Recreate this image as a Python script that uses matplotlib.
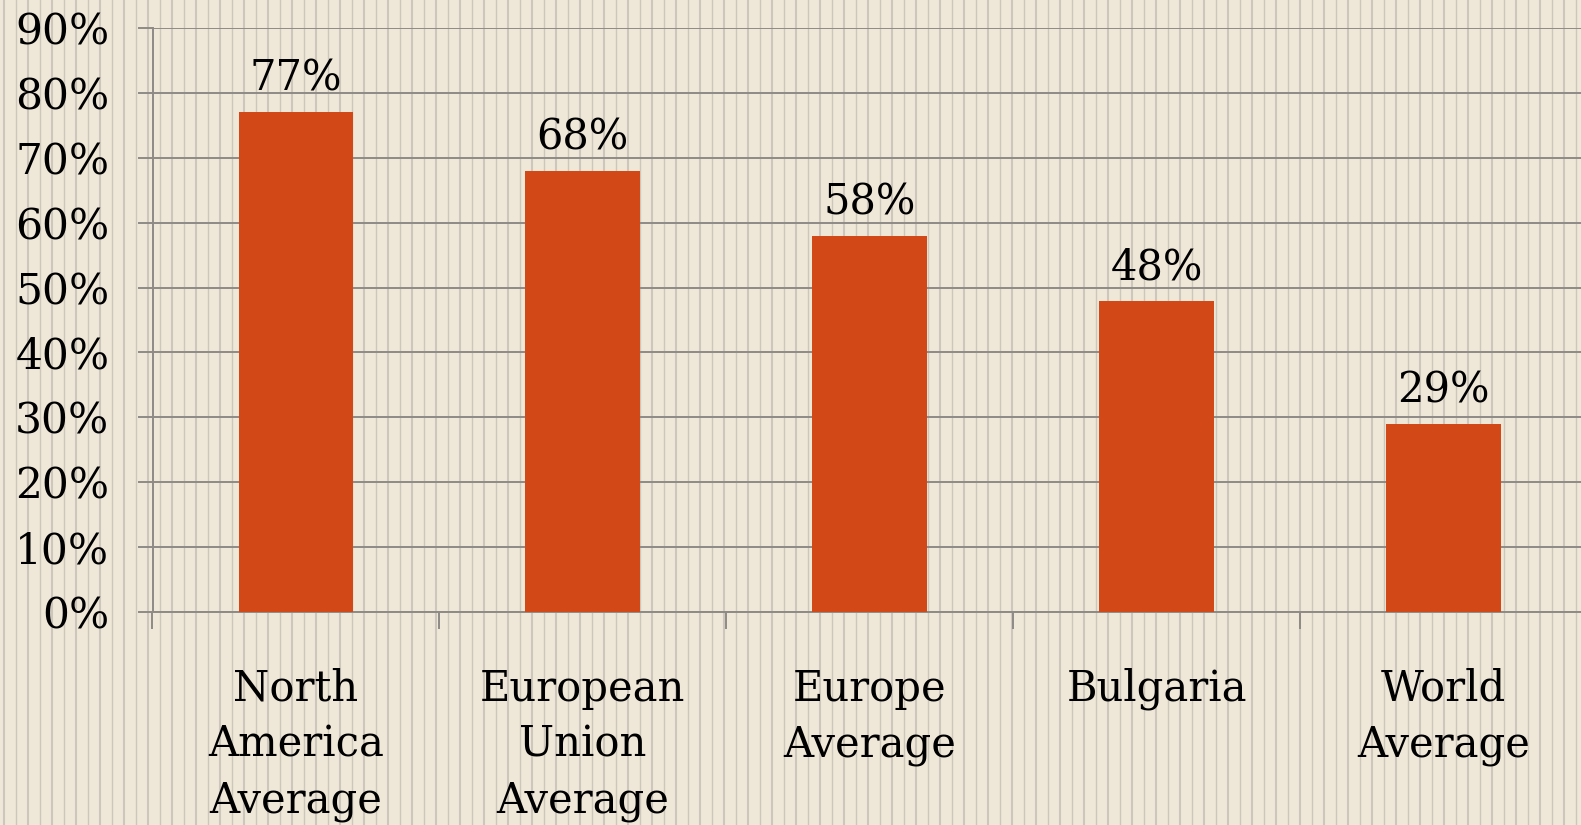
import numpy as np
import matplotlib
matplotlib.use("Agg")
import matplotlib.pyplot as plt
from matplotlib.ticker import FixedLocator, PercentFormatter

categories = ["North\nAmerica\nAverage", "European\nUnion\nAverage", "Europe\nAverage",
              "Bulgaria", "World\nAverage"]
values = [77, 68, 58, 48, 29]
value_labels = ["77%", "68%", "58%", "48%", "29%"]

bg = "#EFE8D8"
stripe = "#CDC6BD"
grid = "#8E8A85"
bar_color = "#D24817"

plt.rcParams["font.family"] = ["DejaVu Serif"]

W, H = 1581, 825
fig = plt.figure(figsize=(W / 100, H / 100), dpi=100)
fig.patch.set_facecolor(bg)

# striped background over the whole figure
bgax = fig.add_axes([0, 0, 1, 1], zorder=-1)
bgax.set_xlim(0, W)
bgax.set_ylim(0, H)
bgax.axis("off")
xs = np.arange(3.7, W, 12.0)
for i, x in enumerate(xs):
    bgax.axvline(x, color=stripe, lw=1.5 if i % 2 == 0 else 1.0)

ax = fig.add_axes([152.5 / W, 1 - 612 / H, 1 - 152.5 / W, (612 - 28) / H])
ax.set_facecolor("none")

x = np.arange(len(values))
bars = ax.bar(x, values, width=0.40, color=bar_color, zorder=3)

for b, lab in zip(bars, value_labels):
    ax.annotate(lab, (b.get_x() + b.get_width() / 2, b.get_height()),
                xytext=(0, 9), textcoords="offset points",
                ha="center", va="bottom", fontsize=30, color="black")

ax.set_ylim(0, 90)
ax.set_xlim(-0.5, 4.479)
ax.set_yticks(np.arange(0, 91, 10))
ax.yaxis.set_major_formatter(PercentFormatter(decimals=0))
ax.yaxis.grid(True, color=grid, lw=1.4, zorder=1)
ax.set_axisbelow(True)

ax.set_xticks(x)
ax.set_xticklabels(categories, fontsize=30, linespacing=1.42)
ax.xaxis.set_minor_locator(FixedLocator(np.arange(-0.5, 5, 1.0)))
ax.tick_params(axis="x", which="major", length=0, pad=40)
ax.tick_params(axis="x", which="minor", length=12, width=1.4, color=grid, direction="out")
ax.tick_params(axis="y", which="major", length=11, width=1.4, color=grid,
               labelsize=30.5, pad=20)
for lab in ax.get_xticklabels():
    lab.set_verticalalignment("top")

for s in ["top", "right"]:
    ax.spines[s].set_visible(False)
ax.spines["left"].set_color(grid)
ax.spines["left"].set_linewidth(1.4)
ax.spines["bottom"].set_color(grid)
ax.spines["bottom"].set_linewidth(1.4)

fig.savefig("out.png", dpi=100, facecolor=bg)
